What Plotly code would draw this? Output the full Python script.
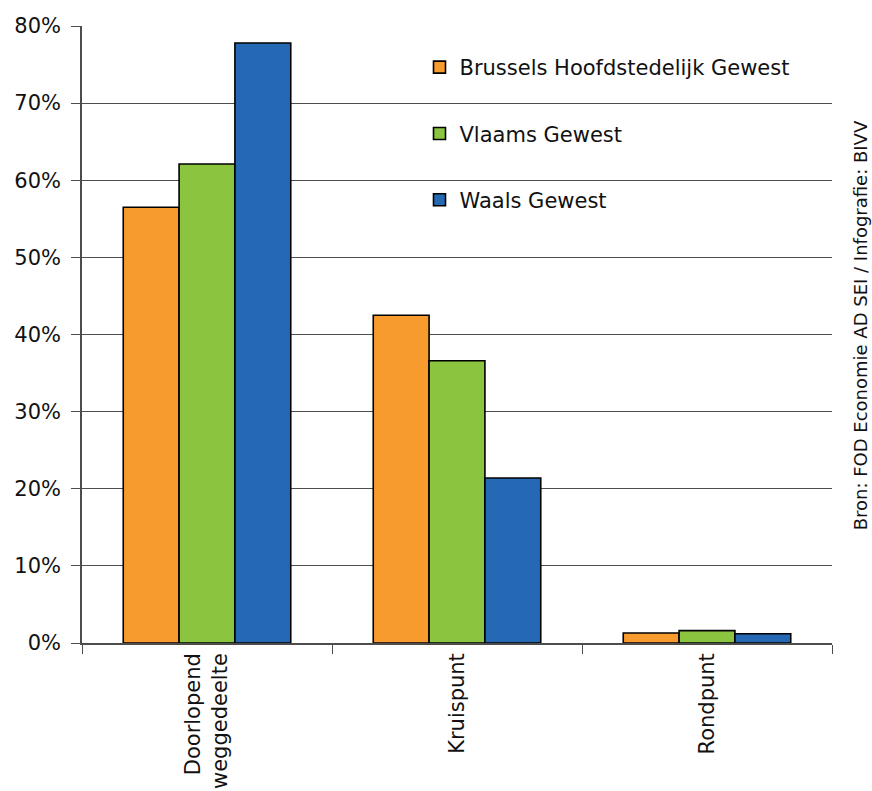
import plotly.graph_objects as go

categories = ["Doorlopend<br>weggedeelte", "Kruispunt", "Rondpunt"]
regions = ["Brussels Hoofdstedelijk Gewest", "Vlaams Gewest", "Waals Gewest"]
brussel = [0.565, 0.425, 0.013]
vlaanderen = [0.621, 0.366, 0.016]
wallonie = [0.778, 0.214, 0.012]
colors = ["#F79B2E", "#8BC540", "#2569B5"]
y_ticks = [0, 0.1, 0.2, 0.3, 0.4, 0.5, 0.6, 0.7, 0.8]
source = "Bron: FOD Economie AD SEI / Infografie: BIVV"

FONT = "DejaVu Sans"
fig = go.Figure()
for i, (name, vals) in enumerate(zip(regions, [brussel, vlaanderen, wallonie])):
    fig.add_trace(go.Bar(
        x=categories, y=vals, name=name, legendgroup=name,
        marker=dict(color=colors[i], line=dict(color="#000000", width=1.6)),
    ))

fig.update_layout(
    width=872, height=791,
    margin=dict(l=82, r=40, t=26, b=148),
    paper_bgcolor="white", plot_bgcolor="white",
    barmode="group", bargap=0.33, bargroupgap=0,
    font=dict(family=FONT, size=20, color="#111111"),
    legend=dict(x=0.45, y=0.966, xanchor="left", yanchor="top",
                bgcolor="rgba(0,0,0,0)", tracegroupgap=36,
                font=dict(family=FONT, size=21), itemwidth=30),
    showlegend=True,
)
fig.update_yaxes(
    range=[0, 0.8], tickvals=y_ticks, tickformat=".0%",
    showgrid=True, gridcolor="#4d4d4d", gridwidth=1.2,
    showline=True, linecolor="#4d4d4d", linewidth=1.5,
    ticks="outside", ticklen=9, tickcolor="#4d4d4d",
    ticklabelstandoff=6, automargin=False,
    zeroline=False, tickfont=dict(size=21),
)
fig.update_xaxes(
    showline=True, linecolor="#4d4d4d", linewidth=1.5,
    ticks="outside", ticklen=9, tickcolor="#4d4d4d", tickson="boundaries",
    tickangle=-90, tickfont=dict(size=21), automargin=False,
)
fig.add_annotation(
    text=source, xref="paper", yref="paper", x=1.0375, y=0.515,
    xanchor="center", yanchor="middle", textangle=-90, showarrow=False,
    font=dict(family=FONT, size=18, color="#111111"),
)
fig.write_html("out.html")
